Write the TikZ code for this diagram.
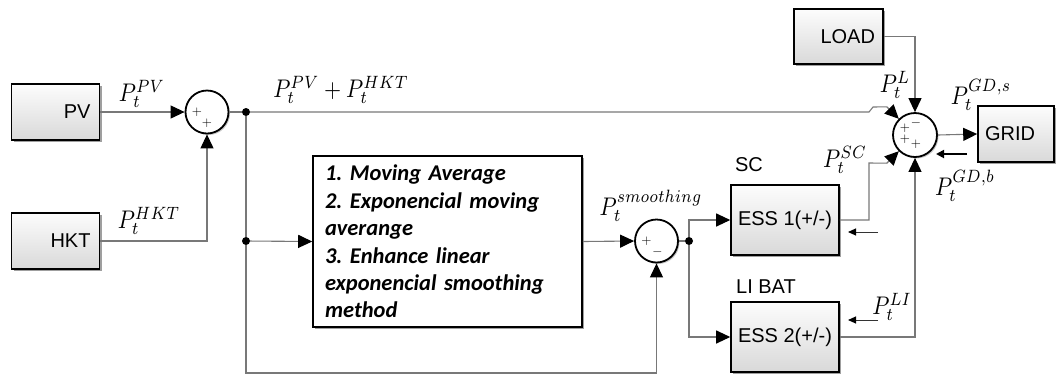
\documentclass[tikz,border=0pt]{standalone}
\usepackage{graphicx}
\usepackage{fontspec}
\setmainfont{Liberation Sans}
\newfontfamily\carl{Carlito}
\usetikzlibrary{arrows.meta,shadows,calc}
\definecolor{linegray}{RGB}{120,120,120}
\newcommand{\mlab}[1]{\scalebox{2.2}[2.55]{$#1$}}
\frenchspacing
\begin{document}
\begin{tikzpicture}[x=1pt,y=-1pt,
  blk/.style={draw=black, line width=1.6pt, top color=gray!2, bottom color=gray!30,
    drop shadow={shadow xshift=2pt, shadow yshift=-2pt, fill=black!75},
    minimum width=88pt, minimum height=56pt, inner sep=0pt,
    font=\fontsize{20}{24}\selectfont},
  sumnode/.style={circle, draw=black, line width=1.8pt, fill=white, minimum size=43pt, inner sep=0pt,
    drop shadow={shadow xshift=1.5pt, shadow yshift=-1.5pt, fill=black!45}},
  sign/.style={inner sep=0pt, font=\normalsize},
  dot/.style={circle, fill=black, inner sep=0pt, minimum size=8pt},
  lab/.style={inner sep=0pt, font=\normalsize},
  plain/.style={inner sep=0pt, font=\fontsize{20}{24}\selectfont},
  wire/.style={draw=linegray, line width=1.1pt},
  arr/.style={wire, -{Triangle[length=14pt,width=13pt,color=black]}},
  smallarr/.style={draw=black!80, line width=1pt, -{Triangle[length=8pt,width=7pt,color=black]}},
  bigsmallarr/.style={draw=black, line width=1.8pt, -{Triangle[length=8pt,width=8pt,color=black]}}
]
\useasboundingbox (0,0) rectangle (1058,376);

% blocks
\node[blk, text width=70pt, align=right] (pv) at (55.5,112) {PV};
\node[blk, text width=70pt, align=right] (hkt) at (55.5,241) {HKT};
\node[blk, minimum width=89pt, minimum height=55pt, text width=73pt, align=right] (load) at (838.5,36.5) {LOAD};
\node[blk, minimum width=76pt, text width=62pt, align=left] (grid) at (1016,134) {GRID};
\node[blk, minimum width=108pt, minimum height=70pt] (ess1) at (785,220) {ESS 1(+/-)};
\node[blk, minimum width=108pt, minimum height=70pt] (ess2) at (785,337) {ESS 2(+/-)};
\node[draw=black, line width=1.6pt, fill=white,
  drop shadow={shadow xshift=2pt, shadow yshift=-2pt, fill=black!75},
  minimum width=269pt, minimum height=171pt, text width=245pt, inner xsep=12pt, inner ysep=0pt,
  align=left, font=\carl\bfseries\itshape\fontsize{22.5}{27.4}\selectfont] (proc) at (447.5,241.5)
  {1. Moving Average\\2. Exponencial moving\\averange\\3. Enhance linear\\exponencial smoothing\\method};

% sum nodes
\node[sumnode] (sum1) at (207,112) {};
\node[sign] (s1a) at ($(sum1)+(-10,0)$) {\scalebox{1.3}{$+$}};
\node[sign] (s1b) at ($(sum1)+(0,11)$) {\scalebox{1.3}{$+$}};
\node[sumnode] (sum2) at (656.5,241) {};
\node[sign] (s2a) at ($(sum2)+(-10,0)$) {\scalebox{1.3}{$+$}};
\node[sign] (s2b) at ($(sum2)+(1,11)$) {\scalebox{1.3}{$-$}};
\node[sumnode, minimum size=44pt] (sum3) at (915,135) {};
\node[sign] (s3a) at ($(sum3)+(-10,-7)$) {\scalebox{1.3}{$+$}};
\node[sign] (s3b) at ($(sum3)+(1,-12)$) {\scalebox{1.3}{$-$}};
\node[sign] (s3c) at ($(sum3)+(-10,4)$) {\scalebox{1.3}{$+$}};
\node[sign] (s3d) at ($(sum3)+(1,9)$) {\scalebox{1.3}{$+$}};

% junctions
\node[dot] (j1) at (246,112) {};
\node[dot] (j2) at (246,241) {};
\node[dot] (j3) at (689,241) {};

% text labels
\node[lab] (lpv) at (142,94) {\mlab{P_t^{PV}}};
\node[lab] (lhkt) at (149,221) {\mlab{P_t^{HKT}}};
\node[lab] (lsum) at (341,90) {\mlab{P_t^{PV}+P_t^{HKT}}};
\node[lab] (lsm) at (651,206) {\mlab{P_t^{smoothing}}};
\node[plain] (lsc) at (749,165) {SC};
\node[plain] (lli) at (766,287) {LI BAT};
\node[lab] (lpsc) at (845,160) {\mlab{P_t^{SC}}};
\node[lab] (lpl) at (895,85) {\mlab{P_t^{L}}};
\node[lab] (lgds) at (981,95) {\mlab{P_t^{GD,s}}};
\node[lab] (lgdb) at (965,186) {\mlab{P_t^{GD,b}}};
\node[lab] (lpli) at (892,307) {\mlab{P_t^{LI}}};

% connectors
\draw[arr] (pv.east) -- (sum1.west);
\draw[arr] (hkt.east) -| (sum1.south);
\draw[wire] (sum1.east) -- (j1);
\draw[wire] (j1) -- (j2);
\draw[arr] (j2) -- (proc.west);
\draw[arr] (j2) -- (246,373) -| (sum2.south);
\draw[arr] (proc.east) -- (sum2.west);
\draw[wire] (sum2.east) -- (j3);
\draw[arr] (j3) |- (ess1.west);
\draw[arr] (j3) |- (ess2.west);
\draw[arr] (j1) -- (869,112) -- (873,107) -- ($(sum3.135)+(-12,-12)$) -- (sum3.135);
\draw[arr] (ess1.east) -- (869,220) -- (869,163) -- ($(sum3.225)+(-12,12)$) -- (sum3.225);
\draw[arr] (ess2.east) -| (sum3.south);
\draw[arr] (load.east) -| (sum3.north);
\draw[arr] (sum3.east) -- (grid.west);

% back arrows
\coordinate (b1s) at (878,232);
\coordinate (b1e) at (848,232);
\coordinate (b2s) at (878,320);
\coordinate (b2e) at (848,320);
\coordinate (b3s) at (967,154);
\coordinate (b3e) at (936,154);
\draw[smallarr] (b1s) -- (b1e);
\draw[smallarr] (b2s) -- (b2e);
\draw[bigsmallarr] (b3s) -- (b3e);
\end{tikzpicture}
\end{document}
